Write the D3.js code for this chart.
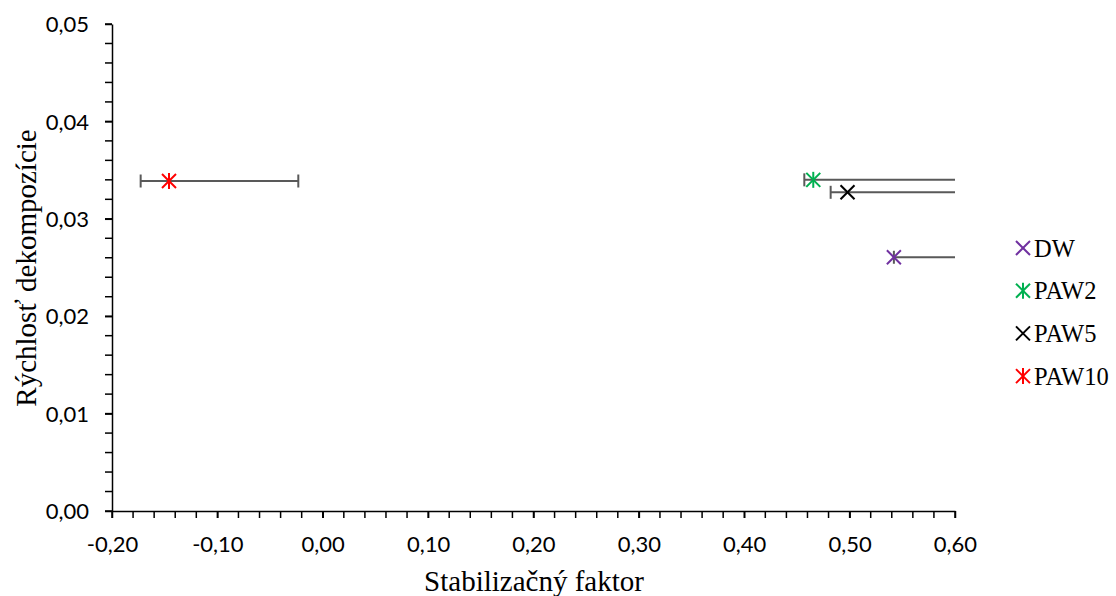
<!DOCTYPE html>
<html><head><meta charset="utf-8">
<script src="https://d3js.org/d3.v7.min.js"></script>
<style>body{margin:0;background:#fff}svg{display:block}</style>
</head><body>
<script>
const series = ["DW", "PAW2", "PAW5", "PAW10"];
const xValues = [0.542, 0.4655, 0.498, -0.1459];
const yValues = [0.02605, 0.0340, 0.03272, 0.03388];
const xErrMinus = [0.0, 0.0085, 0.016, 0.0269];
const xErrPlus = [0.15, 0.15, 0.15, 0.1227];
const colors = ["#7030A0", "#00B050", "#000000", "#FF0000"];
const markers = ["x", "star", "x", "star"];
const xTicks = [-0.2, -0.1, 0, 0.1, 0.2, 0.3, 0.4, 0.5, 0.6];
const yTicks = [0, 0.01, 0.02, 0.03, 0.04, 0.05];
const xTitle = "Stabilizačný faktor";
const yTitle = "Rýchlosť dekompozície";

const W = 1116, H = 596;
const svg = d3.select("body").append("svg").attr("width", W).attr("height", H);
const x = d3.scaleLinear().domain([-0.2, 0.6]).range([112, 955]);
const y = d3.scaleLinear().domain([0, 0.05]).range([511, 24]);
const fmt = d => d3.format(".2f")(d).replace(".", ",").replace("−", "-");
const serif = "'Liberation Serif', 'Times New Roman', serif";

// minor ticks
const xMinor = d3.range(-0.2, 0.6001, 0.02);
const yMinor = d3.range(0, 0.05001, 0.002);
svg.append("g").selectAll("line").data(xMinor).join("line")
  .attr("x1", d => x(d)).attr("x2", d => x(d)).attr("y1", 511).attr("y2", 518)
  .attr("stroke", "#000").attr("stroke-width", 1.5);
svg.append("g").selectAll("line").data(yMinor).join("line")
  .attr("x1", 105).attr("x2", 112).attr("y1", d => y(d)).attr("y2", d => y(d))
  .attr("stroke", "#000").attr("stroke-width", 1.5);

const xAxis = d3.axisBottom(x).tickValues(xTicks).tickFormat(fmt).tickSize(7).tickSizeOuter(0).tickPadding(18);
const yAxis = d3.axisLeft(y).tickValues(yTicks).tickFormat(fmt).tickSize(7).tickSizeOuter(0).tickPadding(16);
const gx = svg.append("g").attr("transform", "translate(0,511)").call(xAxis);
const gy = svg.append("g").attr("transform", "translate(112,0)").call(yAxis);
[gx, gy].forEach(g => {
  g.select(".domain").attr("stroke", "#000").attr("stroke-width", 1.5);
  g.selectAll(".tick line").attr("stroke", "#000").attr("stroke-width", 1.5);
  g.selectAll("text").attr("font-family", "Lato, 'Open Sans', sans-serif").attr("font-size", 22).attr("fill", "#000");
});
gy.selectAll("text").attr("dy", "0.35em");

// titles
svg.append("text").attr("x", 534).attr("y", 591).attr("text-anchor", "middle")
  .attr("font-family", serif).attr("font-size", 29).text(xTitle);
svg.append("text").attr("transform", "translate(36,268) rotate(-90)").attr("text-anchor", "middle")
  .attr("font-family", serif).attr("font-size", 29).text(yTitle);

// error bars
svg.append("defs").append("clipPath").attr("id", "plot").append("rect")
  .attr("x", 100).attr("y", 0).attr("width", x(0.6) - 100).attr("height", 520);
const eb = svg.append("g").attr("clip-path", "url(#plot)");
series.forEach((s, i) => {
  const cy = y(yValues[i]);
  const x0 = x(xValues[i] - xErrMinus[i]), x1 = x(xValues[i] + xErrPlus[i]);
  eb.append("line").attr("x1", x0).attr("x2", x1).attr("y1", cy).attr("y2", cy)
    .attr("stroke", "#595959").attr("stroke-width", 2);
  [x0, x1].forEach(cx => eb.append("line").attr("x1", cx).attr("x2", cx).attr("y1", cy - 6.5).attr("y2", cy + 6.5)
    .attr("stroke", "#595959").attr("stroke-width", 2));
});

function drawMarker(g, type, cx, cy, color) {
  const r = 7;
  g.append("line").attr("x1", cx - r).attr("x2", cx + r).attr("y1", cy - r).attr("y2", cy + r).attr("stroke", color).attr("stroke-width", 2);
  g.append("line").attr("x1", cx - r).attr("x2", cx + r).attr("y1", cy + r).attr("y2", cy - r).attr("stroke", color).attr("stroke-width", 2);
  if (type === "star") g.append("line").attr("x1", cx).attr("x2", cx).attr("y1", cy - r - 1).attr("y2", cy + r + 1).attr("stroke", color).attr("stroke-width", 2);
}
const mg = svg.append("g");
series.forEach((s, i) => drawMarker(mg, markers[i], x(xValues[i]), y(yValues[i]), colors[i]));

// legend
const lg = svg.append("g");
series.forEach((s, i) => {
  const ly = 248 + i * 42.7;
  drawMarker(lg, markers[i], 1023, ly, colors[i]);
  lg.append("text").attr("x", 1034).attr("y", ly + 8.5).attr("font-family", serif)
    .attr("font-size", 24.5).text(s);
});
</script>
</body></html>
